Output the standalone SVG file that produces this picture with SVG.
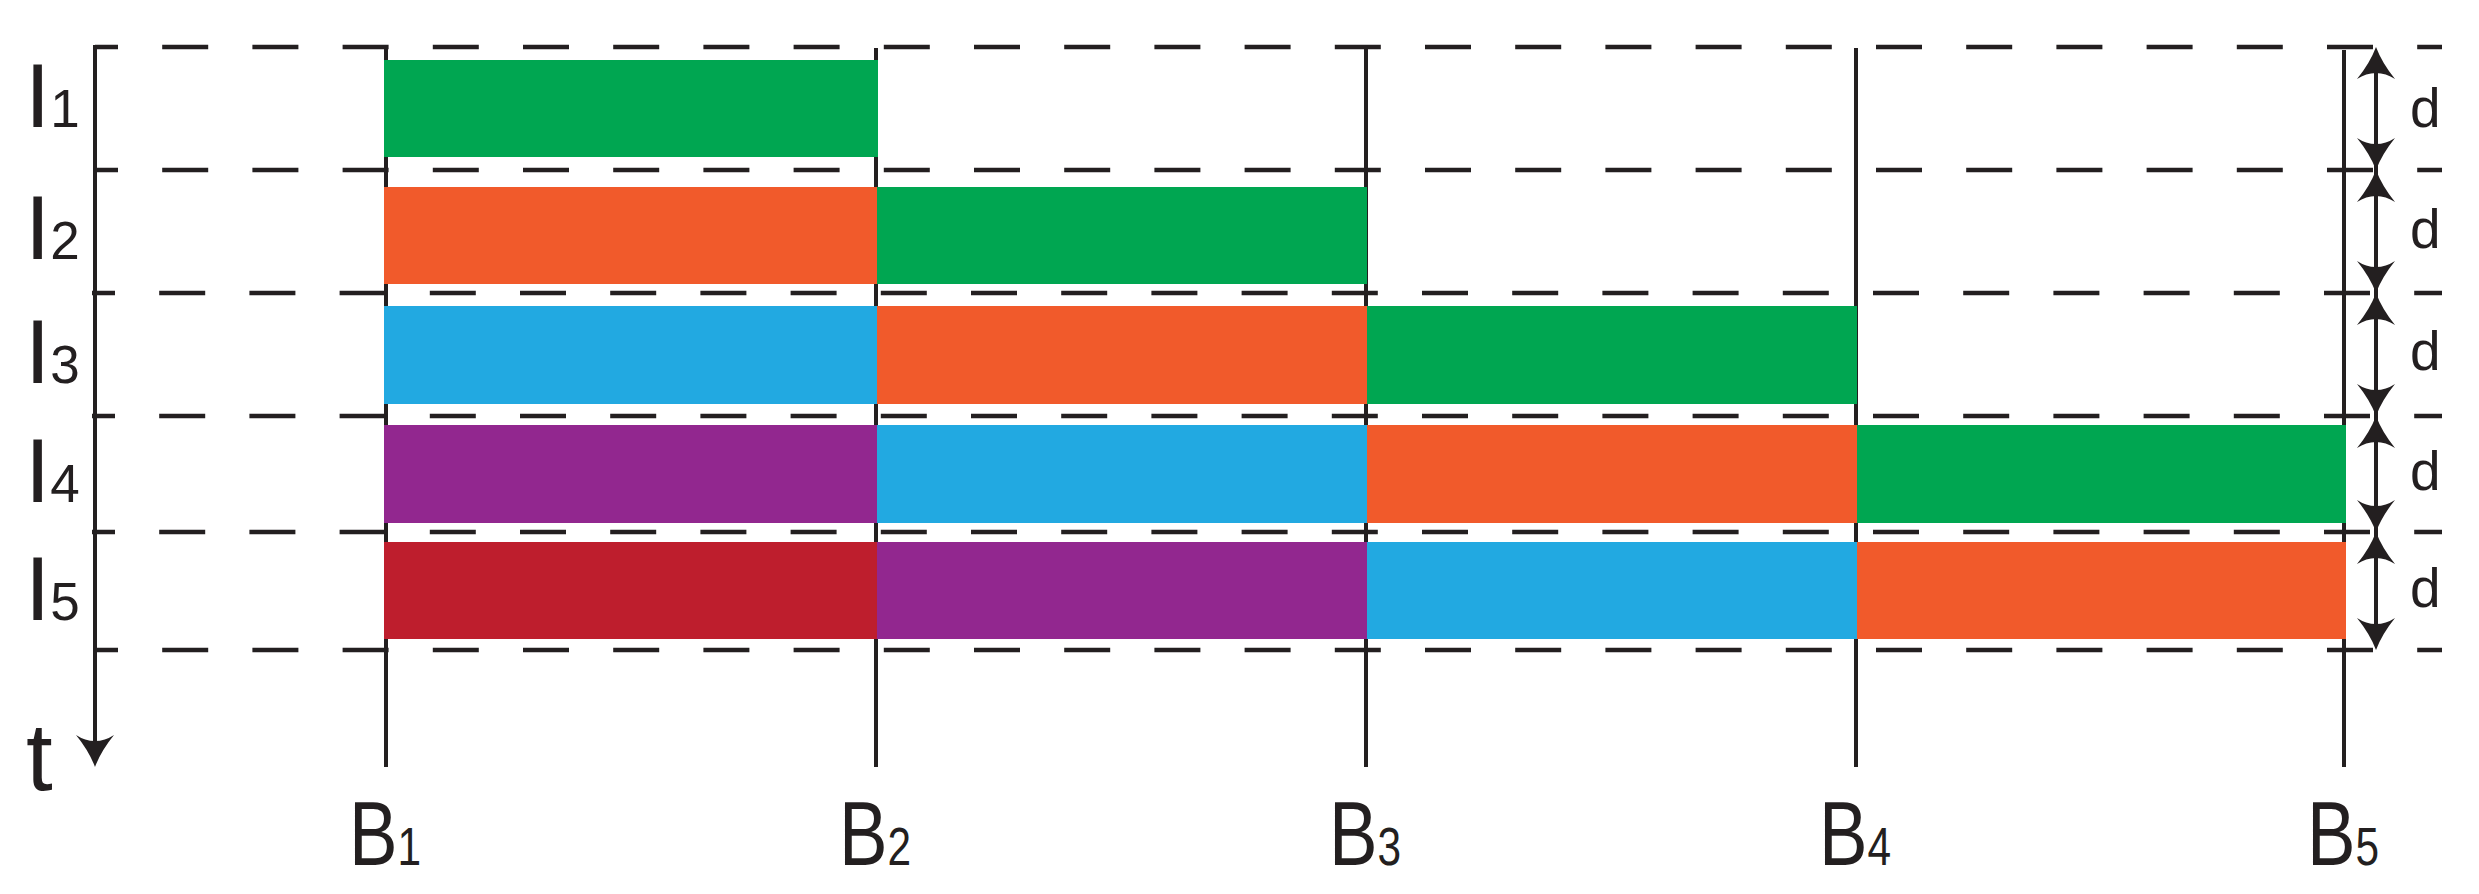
<svg xmlns="http://www.w3.org/2000/svg" xmlns:xlink="http://www.w3.org/1999/xlink" width="2479" height="894" viewBox="0 0 2479 894">
<style>
.dash{stroke:#231F20;stroke-width:4.5;stroke-dasharray:46 44.2;stroke-dashoffset:23;fill:none}
.ln{stroke:#231F20;stroke-width:4;fill:none}
.ah{fill:#231F20}
.lbl{font-family:"Liberation Sans",Arial,sans-serif;font-size:91px;fill:#231F20}
.sub{font-size:53px}
.dl{font-family:"Liberation Sans",Arial,sans-serif;font-size:55px;fill:#231F20}
.g{fill:#00A651}.o{fill:#F15A2B}.b{fill:#22A9E1}.p{fill:#92278F}.r{fill:#BE1E2D}
</style>
<defs>
<path id="ah" d="M0,0 Q-6,-16 -19,-32 Q-10,-26 0,-26 Q10,-26 19,-32 Q6,-16 0,0 Z"/>
</defs>
<g id="grid">
<line class="dash" x1="95" y1="47" x2="2442" y2="47"/>
<line class="dash" x1="95" y1="170" x2="2442" y2="170"/>
<line class="dash" x1="92" y1="293" x2="2442" y2="293"/>
<line class="dash" x1="92" y1="416" x2="2442" y2="416"/>
<line class="dash" x1="92" y1="532" x2="2442" y2="532"/>
<line class="dash" x1="95" y1="650" x2="2442" y2="650"/>
</g>
<g id="connectors">
<line class="ln" x1="95" y1="45" x2="95" y2="745"/>
<use xlink:href="#ah" class="ah" transform="translate(95,767)"/>
<line class="ln" x1="386" y1="48" x2="386" y2="767"/>
<line class="ln" x1="876" y1="48" x2="876" y2="767"/>
<line class="ln" x1="1366" y1="48" x2="1366" y2="767"/>
<line class="ln" x1="1856" y1="48" x2="1856" y2="767"/>
<line class="ln" x1="2344" y1="50" x2="2344" y2="767"/>
<line class="ln" x1="2376" y1="56" x2="2376" y2="641"/>
<g class="ah">
<use xlink:href="#ah" transform="translate(2376,47) rotate(180)"/>
<use xlink:href="#ah" transform="translate(2376,170)"/>
<use xlink:href="#ah" transform="translate(2376,170) rotate(180)"/>
<use xlink:href="#ah" transform="translate(2376,293)"/>
<use xlink:href="#ah" transform="translate(2376,293) rotate(180)"/>
<use xlink:href="#ah" transform="translate(2376,416)"/>
<use xlink:href="#ah" transform="translate(2376,416) rotate(180)"/>
<use xlink:href="#ah" transform="translate(2376,532)"/>
<use xlink:href="#ah" transform="translate(2376,532) rotate(180)"/>
<use xlink:href="#ah" transform="translate(2376,650)"/>
</g>
</g>
<g id="row1">
<rect class="g" x="384" y="60" width="494" height="97"/>
</g>
<g id="row2">
<rect class="o" x="384" y="187" width="494" height="97"/>
<rect class="g" x="877" y="187" width="490" height="97"/>
</g>
<g id="row3">
<rect class="b" x="384" y="306" width="494" height="98"/>
<rect class="o" x="877" y="306" width="490" height="98"/>
<rect class="g" x="1367" y="306" width="490" height="98"/>
</g>
<g id="row4">
<rect class="p" x="384" y="425" width="494" height="98"/>
<rect class="b" x="877" y="425" width="490" height="98"/>
<rect class="o" x="1367" y="425" width="490" height="98"/>
<rect class="g" x="1857" y="425" width="489" height="98"/>
</g>
<g id="row5">
<rect class="r" x="384" y="542" width="494" height="97"/>
<rect class="p" x="877" y="542" width="490" height="97"/>
<rect class="b" x="1367" y="542" width="490" height="97"/>
<rect class="o" x="1857" y="542" width="489" height="97"/>
</g>
<g id="row-labels">
<text class="lbl" x="25" y="127">I<tspan class="sub">1</tspan></text>
<text class="lbl" x="25" y="259">I<tspan class="sub">2</tspan></text>
<text class="lbl" x="25" y="383">I<tspan class="sub">3</tspan></text>
<text class="lbl" x="25" y="502">I<tspan class="sub">4</tspan></text>
<text class="lbl" x="25" y="620">I<tspan class="sub">5</tspan></text>
</g>
<g id="axis-label">
<text class="lbl" x="26" y="790" style="font-size:96px">t</text>
</g>
<g id="col-labels">
<text class="lbl" transform="translate(349,865) scale(0.8,1)">B<tspan class="sub">1</tspan></text>
<text class="lbl" transform="translate(839,865) scale(0.8,1)">B<tspan class="sub">2</tspan></text>
<text class="lbl" transform="translate(1329,865) scale(0.8,1)">B<tspan class="sub">3</tspan></text>
<text class="lbl" transform="translate(1819,865) scale(0.8,1)">B<tspan class="sub">4</tspan></text>
<text class="lbl" transform="translate(2307,865) scale(0.8,1)">B<tspan class="sub">5</tspan></text>
</g>
<g id="d-labels">
<text class="dl" x="2410" y="127">d</text>
<text class="dl" x="2410" y="248">d</text>
<text class="dl" x="2410" y="370">d</text>
<text class="dl" x="2410" y="490">d</text>
<text class="dl" x="2410" y="607">d</text>
</g>
</svg>
